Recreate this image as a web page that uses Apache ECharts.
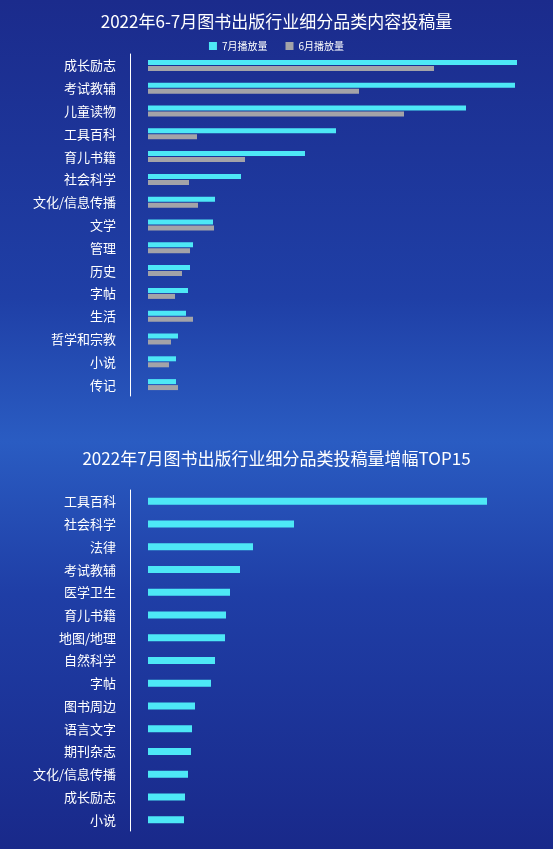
<!DOCTYPE html>
<html><head><meta charset="utf-8">
<script src="https://cdn.jsdelivr.net/npm/echarts@6/dist/echarts.min.js"></script>
<style>
html,body{margin:0;padding:0;}
body{background:linear-gradient(180deg,#1b2b8c 0%,#1f3fa6 35%,#2a5cc2 52%,#1f3ea6 70%,#19298a 100%);}
#main{width:553px;height:849px;}
</style></head><body>
<div id="main"></div>
<script>
var topCats = ['成长励志','考试教辅','儿童读物','工具百科','育儿书籍','社会科学','文化/信息传播','文学','管理','历史','字帖','生活','哲学和宗教','小说','传记'];
var julVals = [369,367,318,188,157,93,67,65,45,42,40,38,30,28,28];
var junVals = [286,211,256,49,97,41,50,66,42,34,27,45,23,21,30];
var botCats = ['工具百科','社会科学','法律','考试教辅','医学卫生','育儿书籍','地图/地理','自然科学','字帖','图书周边','语言文字','期刊杂志','文化/信息传播','成长励志','小说'];
var growVals = [339,146,105,92,82,78,77,67,63,47,44,43,40,37,36];

var chart = echarts.init(document.getElementById('main'));
var font = 'Noto Sans CJK SC';
function yAx(idx, cats){
	return {type:'category', gridIndex:idx, data:cats, inverse:true, offset:18,
		axisLine:{onZero:false,lineStyle:{color:'#ffffff',width:1}}, axisTick:{show:false},
		axisLabel:{color:'#ffffff',fontSize:13,margin:14,fontFamily:font}};
}
function xAx(idx){
	return {type:'value', gridIndex:idx, min:0, max:380, show:false};
}
chart.setOption({
	textStyle:{fontFamily:font},
	title:[
		{text:'2022年6-7月图书出版行业细分品类内容投稿量',left:'center',top:8,textStyle:{color:'#fff',fontSize:17,fontWeight:'normal'}},
		{text:'2022年7月图书出版行业细分品类投稿量增幅TOP15',left:'center',top:445,textStyle:{color:'#fff',fontSize:17,fontWeight:'normal'}}
	],
	legend:{top:36,left:'center',itemWidth:8,itemHeight:8,itemGap:18,icon:'rect',
		textStyle:{color:'#fff',fontSize:10},data:['7月播放量','6月播放量']},
	grid:[
		{left:148,right:25,top:54,height:342},
		{left:148,right:25,top:490,height:341}
	],
	xAxis:[xAx(0),xAx(1)],
	yAxis:[yAx(0,topCats),yAx(1,botCats)],
	series:[
		{name:'7月播放量',type:'bar',xAxisIndex:0,yAxisIndex:0,data:julVals,barWidth:5,barGap:'20%',itemStyle:{color:'#4de8f6'}},
		{name:'6月播放量',type:'bar',xAxisIndex:0,yAxisIndex:0,data:junVals,barWidth:5,itemStyle:{color:'#a3a3a8'}},
		{name:'增幅',type:'bar',xAxisIndex:1,yAxisIndex:1,data:growVals,barWidth:7,itemStyle:{color:'#4de8f6'}}
	]
});
</script>
</body></html>
